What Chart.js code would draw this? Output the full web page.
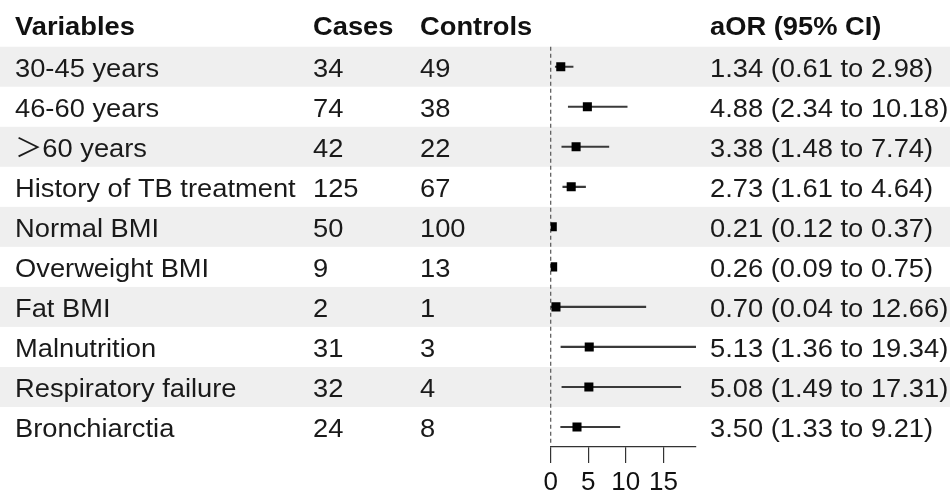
<!DOCTYPE html>
<html>
<head>
<meta charset="utf-8">
<script src="https://cdn.jsdelivr.net/npm/chart.js@4"></script>
<style>
html,body{margin:0;padding:0;background:#fff;}
canvas{display:block;}
</style>
</head>
<body>
<canvas id="c" width="950" height="493"></canvas>
<script>
const variables = ['30-45 years','46-60 years','＞60 years','History of TB treatment','Normal BMI','Overweight BMI','Fat BMI','Malnutrition','Respiratory failure','Bronchiarctia'];
const cases = [34,74,42,125,50,9,2,31,32,24];
const controls = [49,38,22,67,100,13,1,3,4,8];
const aor = [1.34,4.88,3.38,2.73,0.21,0.26,0.70,5.13,5.08,3.50];
const ciLow = [0.61,2.34,1.48,1.61,0.12,0.09,0.04,1.36,1.49,1.33];
const ciHigh = [2.98,10.18,7.74,4.64,0.37,0.75,12.66,19.34,17.31,9.21];
const headers = ['Variables','Cases','Controls','aOR (95% CI)'];
const xTicks = [0,5,10,15];

const FONT = '"Liberation Sans", Arial, "Noto Sans CJK SC", sans-serif';
const FS = 26;
const SX = 1.05;

const tablePlugin = {
  id: 'table',
  beforeDraw(chart) {
    const ctx = chart.ctx, y = chart.scales.y;
    ctx.save();
    ctx.fillStyle = '#efefef';
    for (let i = 0; i < variables.length; i += 2) {
      const c = y.getPixelForValue(i);
      ctx.fillRect(0, c - 20, chart.width, 40);
    }
    ctx.restore();
  },
  beforeDatasetsDraw(chart) {
    const ctx = chart.ctx, x = chart.scales.x, a = chart.chartArea;
    ctx.save();
    ctx.strokeStyle = '#555';
    ctx.lineWidth = 1.2;
    ctx.setLineDash([4,3]);
    const px = x.getPixelForValue(0);
    ctx.beginPath();
    ctx.moveTo(px, a.top);
    ctx.lineTo(px, a.bottom - 4);
    ctx.stroke();
    ctx.restore();
  },
  afterDraw(chart) {
    const ctx = chart.ctx, y = chart.scales.y;
    const cols = [15, 313, 420, 710];
    ctx.save();
    ctx.scale(SX, 1);
    ctx.textBaseline = 'middle';
    ctx.textAlign = 'left';
    ctx.fillStyle = '#111';
    ctx.font = 'bold ' + FS + 'px ' + FONT;
    const hy = y.getPixelForValue(0) - 40 + 1.5;
    headers.forEach((h, j) => ctx.fillText(h, cols[j] / SX, hy));
    ctx.font = FS + 'px ' + FONT;
    ctx.fillStyle = '#1a1a1a';
    variables.forEach((v, i) => {
      const cy = y.getPixelForValue(i) + 3;
      ctx.fillText(v, cols[0] / SX, cy);
      ctx.fillText(String(cases[i]), cols[1] / SX, cy);
      ctx.fillText(String(controls[i]), cols[2] / SX, cy);
      ctx.fillText(aor[i].toFixed(2) + ' (' + ciLow[i].toFixed(2) + ' to ' + ciHigh[i].toFixed(2) + ')', cols[3] / SX, cy);
    });
    ctx.restore();
  }
};

new Chart(document.getElementById('c'), {
  type: 'bar',
  data: {
    labels: variables,
    datasets: [
      {
        type: 'bar',
        data: ciLow.map((l, i) => [l, ciHigh[i]]),
        backgroundColor: '#3a3a3a',
        borderWidth: 0,
        barThickness: 1.5,
        order: 2
      },
      {
        type: 'line',
        indexAxis: 'y',
        data: aor,
        showLine: false,
        pointStyle: 'rect',
        pointRadius: 6.4,
        pointBackgroundColor: '#000',
        pointBorderWidth: 0,
        order: 1
      }
    ]
  },
  options: {
    indexAxis: 'y',
    responsive: false,
    animation: false,
    events: [],
    layout: { padding: { left: 550.7, right: 254, top: 46.7, bottom: 0 } },
    plugins: { legend: { display: false }, tooltip: { enabled: false } },
    scales: {
      x: {
        type: 'linear',
        min: 0,
        max: 19.34,
        afterBuildTicks: s => { s.ticks = xTicks.map(v => ({ value: v })); },
        afterFit: s => { s.height = 46; },
        grid: { drawOnChartArea: false, drawTicks: true, tickLength: 16, color: '#333', lineWidth: 1.2 },
        border: { display: true, color: '#333', width: 1.2 },
        ticks: { font: { size: FS, family: FONT }, color: '#111', padding: 4, maxRotation: 0, autoSkip: false }
      },
      y: {
        type: 'category',
        display: false,
        offset: true
      }
    }
  },
  plugins: [tablePlugin]
});
</script>
</body>
</html>
